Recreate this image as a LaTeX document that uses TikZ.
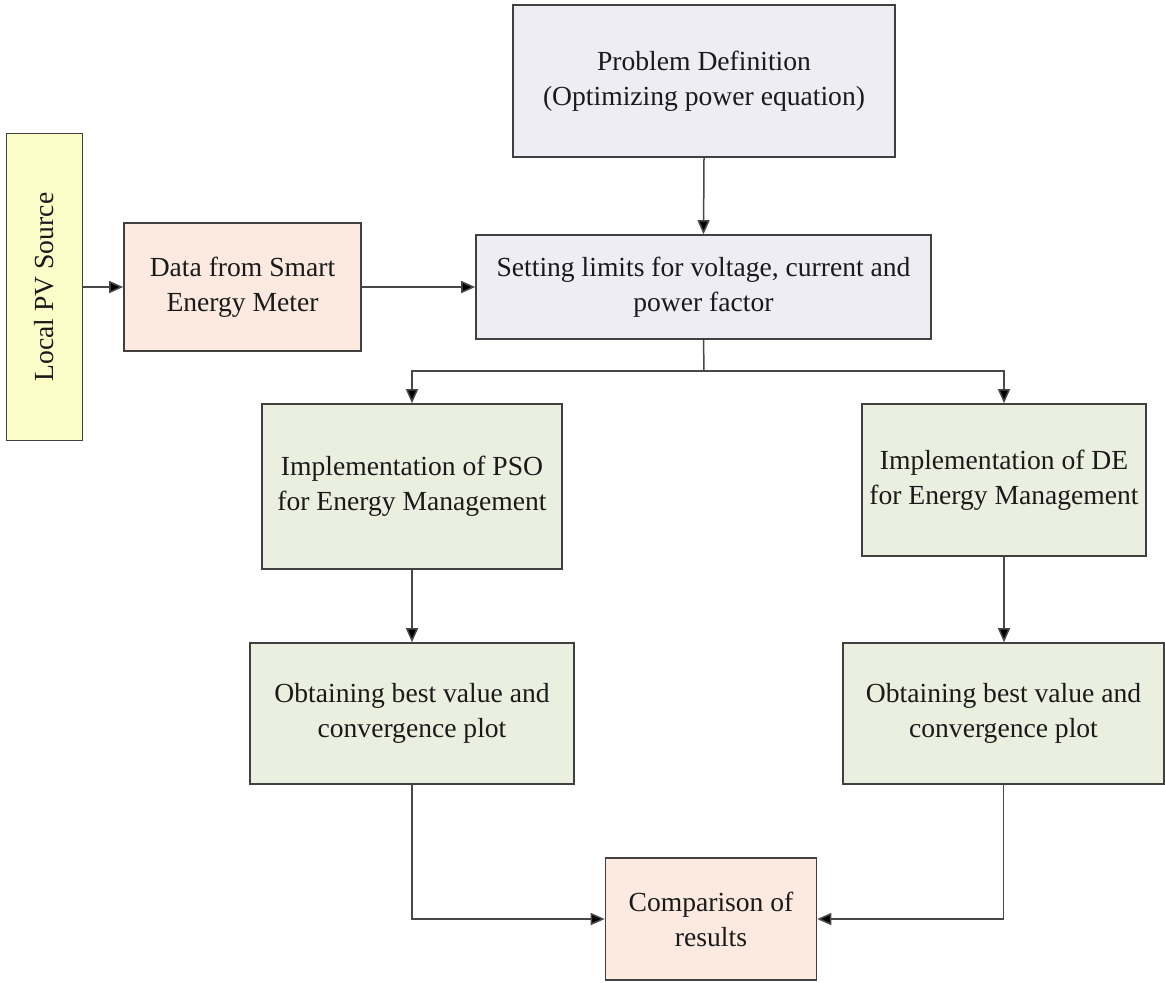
\documentclass[tikz,border=0pt]{standalone}
\usepackage{fontspec}
\setmainfont{Liberation Serif}
\usetikzlibrary{arrows.meta}
\definecolor{lav}{HTML}{EDEDF3}
\definecolor{peach}{HTML}{FCEAE0}
\definecolor{sage}{HTML}{EBEFDF}
\definecolor{pale}{HTML}{FCFDC8}
\definecolor{edge}{HTML}{404040}
\definecolor{wire}{HTML}{484848}
\definecolor{ink}{HTML}{1A1A1A}
\tikzset{
  blk/.style={draw=edge, line width=0.8pt, rectangle, inner sep=0pt, align=center,
    text=ink, font=\fontsize{13.8}{17.5}\selectfont},
  conn/.style={draw=wire, line width=0.75pt, -{Triangle[length=7pt,width=6pt,fill=black]}},
  plain/.style={draw=wire, line width=0.75pt}
}
\begin{document}
\begin{tikzpicture}[x=0.5pt,y=-0.5pt]
\useasboundingbox (0,0) rectangle (1165,982);
\fill[white] (0,0) rectangle (1165,982);

\node[blk, fill=lav, minimum width=191pt, minimum height=76pt] (prob) at (704,81)
  {Problem Definition\\(Optimizing power equation)};
\node[blk, fill=pale, minimum width=38pt, minimum height=153.5pt] (pv) at (44.5,287) {};
\node[rotate=90, text=ink, font=\fontsize{13.8}{17.5}\selectfont, inner sep=0pt] (pvlabel) at (pv.center) {Local PV Source};
\node[blk, fill=peach, minimum width=118.5pt, minimum height=64pt] (data) at (242.5,287)
  {Data from Smart\\Energy Meter};
\node[blk, fill=lav, minimum width=227.5pt, minimum height=52pt] (set) at (703.5,287)
  {Setting limits for voltage, current and\\power factor};
\node[blk, fill=sage, minimum width=150pt, minimum height=82.5pt] (pso) at (412,486.5)
  {Implementation of PSO\\for Energy Management};
\node[blk, fill=sage, minimum width=142pt, minimum height=76pt] (de) at (1004,480)
  {Implementation of DE\\for Energy Management};
\node[blk, fill=sage, minimum width=162pt, minimum height=70.5pt] (obp) at (412,713.5)
  {Obtaining best value and\\convergence plot};
\node[blk, fill=sage, minimum width=160.5pt, minimum height=70.5pt] (obd) at (1003.5,713.5)
  {Obtaining best value and\\convergence plot};
\node[blk, fill=peach, minimum width=105.5pt, minimum height=61pt] (cmp) at (711,919)
  {Comparison of\\results};

\coordinate (br) at (704,371);

\draw[conn] (pv.east) -- (data.west);
\draw[conn] (data.east) -- (set.west);
\draw[conn] (prob.south) -- (set.north);
\draw[plain] (set.south) -- (br);
\draw[conn] (br) -| (pso.north);
\draw[conn] (br) -| (de.north);
\draw[conn] (pso.south) -- (obp.north);
\draw[conn] (de.south) -- (de.south |- obd.north);
\draw[conn] (obp.south) |- (cmp.west);
\draw[conn] (obd.south) |- (cmp.east);
\end{tikzpicture}
\end{document}
